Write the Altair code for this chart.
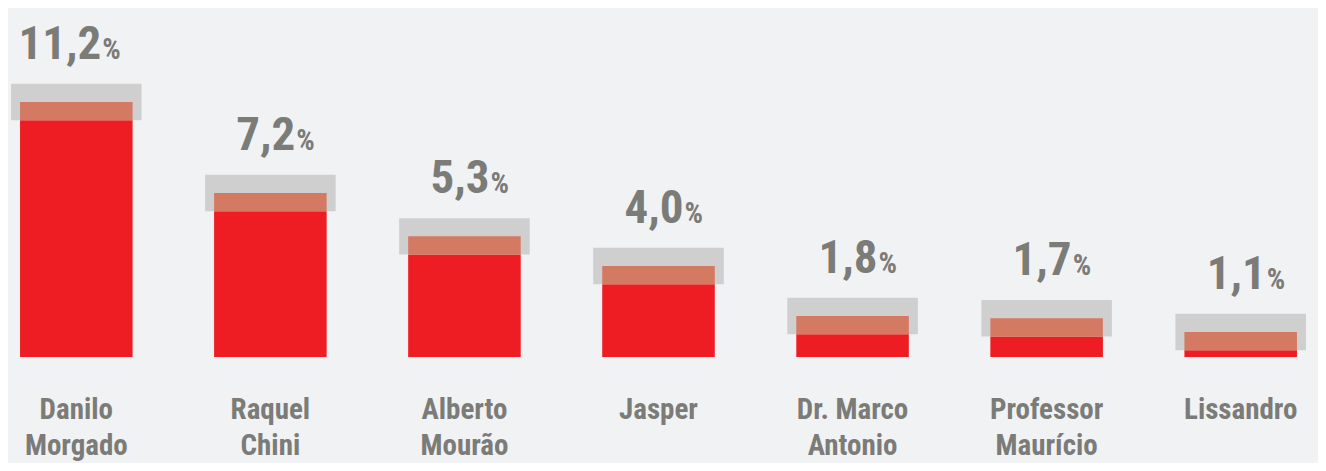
import altair as alt

names = ["Danilo Morgado", "Raquel Chini", "Alberto Mourão", "Jasper",
         "Dr. Marco Antonio", "Professor Maurício", "Lissandro"]
name_lines = [["Danilo", "Morgado"], ["Raquel", "Chini"], ["Alberto", "Mourão"], ["Jasper"],
              ["Dr. Marco", "Antonio"], ["Professor", "Maurício"], ["Lissandro"]]
values = [11.2, 7.2, 5.3, 4.0, 1.8, 1.7, 1.1]
value_labels = ["11,2", "7,2", "5,3", "4,0", "1,8", "1,7", "1,1"]
margin = 0.8

rows = []
for n, ln, v, lab in zip(names, name_lines, values, value_labels):
    rows.append({"name": n, "lines": ln, "value": v, "label": lab,
                 "zero": 0, "lo": v - margin, "hi": v + margin})
data = alt.Data(values=rows)

FONT = "Roboto Condensed, Roboto, sans-serif"
W, H = 1301, 349
GREY = "#7B7B78"

x = alt.X("name:N", sort=names, axis=None,
          scale=alt.Scale(paddingInner=0.42, paddingOuter=0.062))
yscale = alt.Scale(domain=[0, 15.33], nice=False, zero=True)

base = alt.Chart(data)

gray = base.mark_bar(color="#CFCFCF", width={"band": 1.16}).encode(
    x=x, y=alt.Y("lo:Q", scale=yscale, axis=None), y2="hi:Q")
red = base.mark_bar(color="#EE1D23").encode(
    x=x, y=alt.Y("zero:Q", scale=yscale, axis=None), y2="lo:Q")
salmon = base.mark_bar(color="#D47A63").encode(
    x=x, y=alt.Y("lo:Q", scale=yscale, axis=None), y2="value:Q")
num = base.mark_text(font=FONT, fontWeight="bold", fontSize=47, color=GREY,
                     align="right", baseline="alphabetic", dx=25, dy=-43).encode(
    x=x, y=alt.Y("value:Q", scale=yscale, axis=None), text="label:N")
pct = base.mark_text(font=FONT, fontWeight="bold", fontSize=29, color=GREY,
                     align="left", baseline="alphabetic", dx=26, dy=-43).encode(
    x=x, y=alt.Y("value:Q", scale=yscale, axis=None), text=alt.value("%"))
names_txt = base.mark_text(font=FONT, fontWeight="bold", fontSize=29, color=GREY,
                           align="center", baseline="alphabetic", lineHeight=36).encode(
    x=x, y=alt.value(H + 62), text="lines:N")

chart = alt.layer(gray, red, salmon, num, pct, names_txt).properties(
    width=W, height=H,
    autosize=alt.AutoSizeParams(type="none"),
    padding={"left": 0, "top": 0, "right": 9, "bottom": 106},
    background="#F1F2F4",
).configure_view(stroke=None)

chart.save("out.html", embed_options={"renderer": "svg", "actions": False})
